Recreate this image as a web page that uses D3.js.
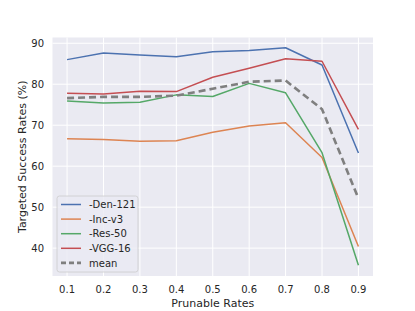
<!DOCTYPE html>
<html>
<head>
    <meta charset="utf-8">
    <script src="https://d3js.org/d3.v7.min.js"></script>
    <style>
        body { margin:0; background:#fff; }
        text { font-family: "DejaVu Sans", sans-serif; fill:#262626; }
    </style>
</head>
<body>
    <svg id="chart" width="415" height="311"></svg>
    <script>
        var rates = [0.1, 0.2, 0.3, 0.4, 0.5, 0.6, 0.7, 0.8, 0.9];
        var den121 = [86.0, 87.6, 87.1, 86.7, 87.9, 88.2, 88.9, 84.7, 63.2];
        var incV3 = [66.7, 66.5, 66.1, 66.2, 68.3, 69.8, 70.6, 62.1, 40.4];
        var res50 = [75.9, 75.4, 75.6, 77.4, 77.0, 80.2, 77.9, 63.3, 35.8];
        var vgg16 = [77.8, 77.6, 78.3, 78.2, 81.7, 83.9, 86.2, 85.6, 69.0];
        var meanVals = [76.6, 76.9, 76.9, 77.2, 78.9, 80.6, 80.9, 73.9, 52.1];
        var seriesNames = ["-Den-121", "-Inc-v3", "-Res-50", "-VGG-16", "mean"];
        var yTicks = [40, 50, 60, 70, 80, 90];

        var series = [
            {name: seriesNames[0], values: den121, color: "#4C72B0"},
            {name: seriesNames[1], values: incV3, color: "#DD8452"},
            {name: seriesNames[2], values: res50, color: "#55A868"},
            {name: seriesNames[3], values: vgg16, color: "#C44E52"},
            {name: seriesNames[4], values: meanVals, color: "#7f7f7f", dash: "7,4", width: 2.6}
        ];

        var svg = d3.select("#chart");
        var pLeft = 52.5, pRight = 373, pTop = 37.5, pBottom = 276;

        var x = d3.scaleLinear().domain([0.06, 0.94]).range([pLeft, pRight]);
        var y = d3.scaleLinear().domain([33.2, 91.4]).range([pBottom, pTop]);

        svg.append("rect")
            .attr("x", pLeft).attr("y", pTop)
            .attr("width", pRight - pLeft).attr("height", pBottom - pTop)
            .attr("fill", "#EAEAF2");

        // grid
        svg.selectAll("line.vgrid").data(rates).enter().append("line")
            .attr("x1", d => x(d)).attr("x2", d => x(d))
            .attr("y1", pTop).attr("y2", pBottom)
            .attr("stroke", "#fff").attr("stroke-width", 1);
        svg.selectAll("line.hgrid").data(yTicks).enter().append("line")
            .attr("x1", pLeft).attr("x2", pRight)
            .attr("y1", d => y(d)).attr("y2", d => y(d))
            .attr("stroke", "#fff").attr("stroke-width", 1);

        // tick labels
        svg.selectAll("text.xt").data(rates).enter().append("text")
            .attr("x", d => x(d)).attr("y", 293)
            .attr("text-anchor", "middle")
            .style("font-size", "10px")
            .text(d => d3.format(".1f")(d));
        svg.selectAll("text.yt").data(yTicks).enter().append("text")
            .attr("x", 44).attr("y", d => y(d) + 3.6)
            .attr("text-anchor", "end")
            .style("font-size", "10px")
            .text(d => d);

        svg.append("text")
            .attr("x", (pLeft + pRight) / 2).attr("y", 306.5)
            .attr("text-anchor", "middle")
            .style("font-size", "11px")
            .text("Prunable Rates");
        svg.append("text")
            .attr("transform", "translate(26," + ((pTop + pBottom) / 2) + ") rotate(-90)")
            .attr("text-anchor", "middle")
            .style("font-size", "11px")
            .text("Targeted Success Rates (%)");

        var line = d3.line()
            .x((d, i) => x(rates[i]))
            .y(d => y(d));

        series.forEach(function(s) {
            svg.append("path")
                .attr("d", line(s.values))
                .attr("fill", "none")
                .attr("stroke", s.color)
                .attr("stroke-width", s.width || 1.5)
                .attr("stroke-dasharray", s.dash || null)
                .attr("stroke-linejoin", "round");
        });

        // legend
        var lg = svg.append("g").attr("transform", "translate(57,196)");
        lg.append("rect")
            .attr("width", 81).attr("height", 76).attr("rx", 2.5)
            .attr("fill", "#EAEAF2").attr("fill-opacity", 0.8)
            .attr("stroke", "#cccccc").attr("stroke-width", 0.8);
        series.forEach(function(s, i) {
            var yy = 8.5 + i * 14.6;
            lg.append("line")
                .attr("x1", 4).attr("x2", 24)
                .attr("y1", yy).attr("y2", yy)
                .attr("stroke", s.color)
                .attr("stroke-width", s.width || 1.5)
                .attr("stroke-dasharray", s.dash ? "5,3" : null);
            lg.append("text")
                .attr("x", 32).attr("y", yy + 3.6)
                .style("font-size", "10px")
                .text(s.name);
        });
    </script>
</body>
</html>
